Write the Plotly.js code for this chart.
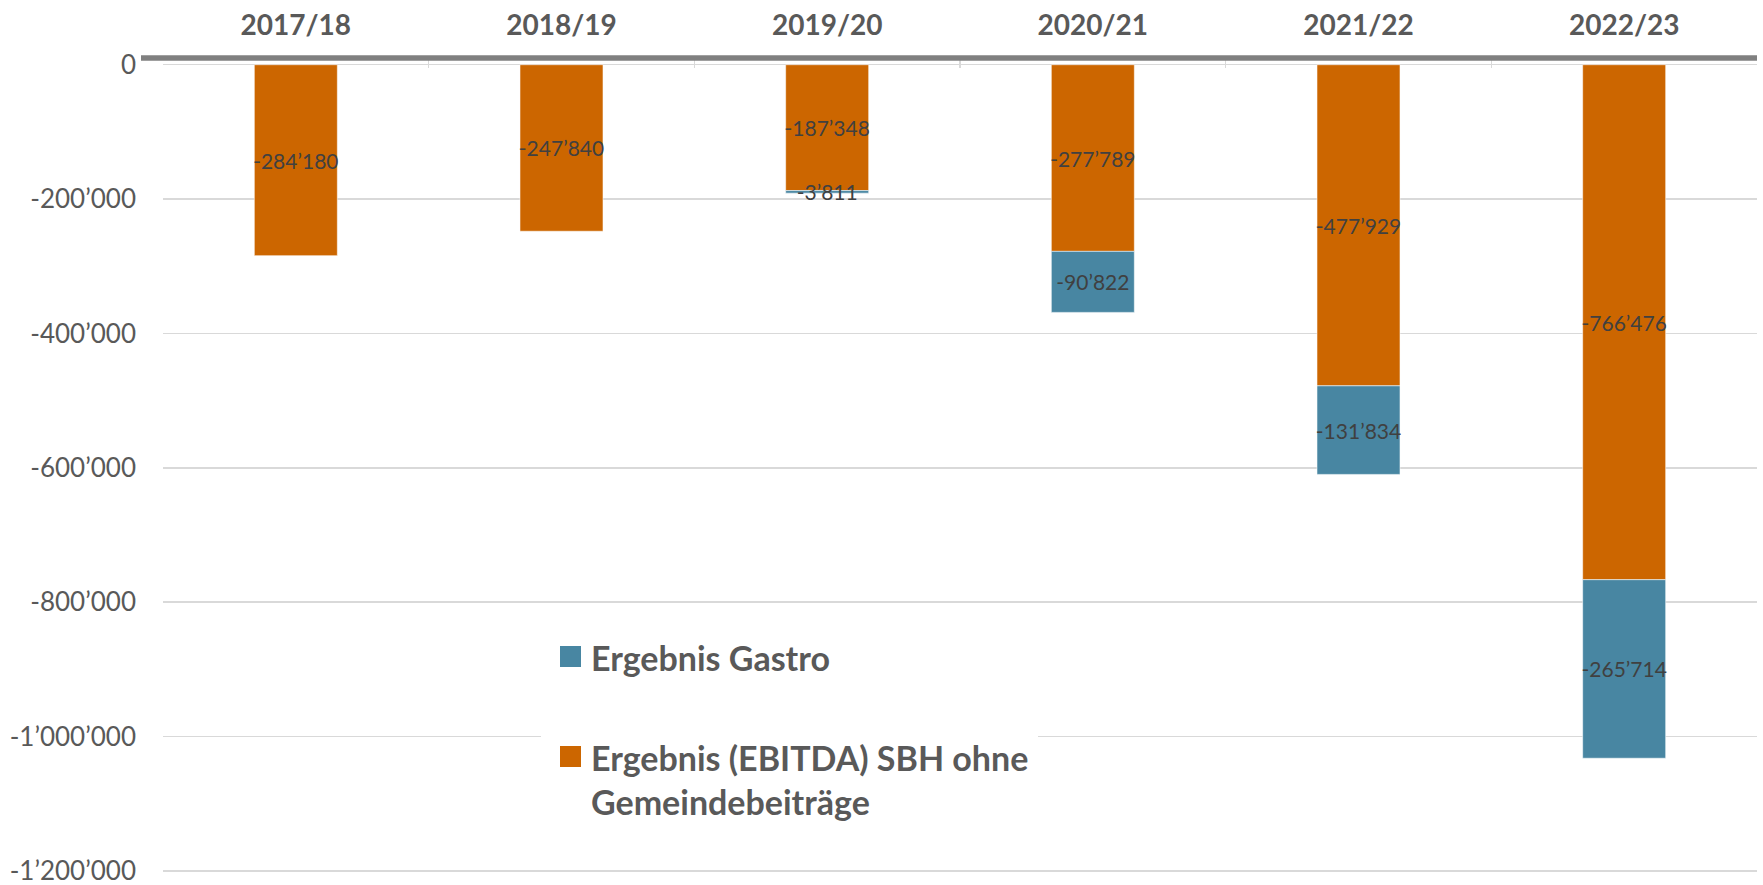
<!DOCTYPE html>
<html>
<head>
<meta charset="utf-8">
<script src="https://cdn.plot.ly/plotly-3.0.1.min.js"></script>
<style>html,body{margin:0;padding:0;background:#fff}#chart{width:1763px;height:885px}</style>
</head>
<body>
<div id="chart"></div>
<script>
const categories = ['2017/18', '2018/19', '2019/20', '2020/21', '2021/22', '2022/23'];
const ebitdaValues = [-284180, -247840, -187348, -277789, -477929, -766476];
const gastroValues = [null, null, -3811, -90822, -131834, -265714];
const ebitdaName = 'Ergebnis (EBITDA) SBH ohne<br>Gemeindebeiträge';
const gastroName = 'Ergebnis Gastro';
const yTickValues = [0, -200000, -400000, -600000, -800000, -1000000, -1200000];

const ebitdaColor = '#CC6600';
const gastroColor = '#4886A2';

function fmt(v) {
  if (v === null || v === undefined) return '';
  const s = String(Math.abs(v)).replace(/\B(?=(\d{3})+(?!\d))/g, '\u2019');
  return (v < 0 ? '-' : '') + s;
}

const W = 1763, H = 885;
const M = {l: 163, r: 6, t: 58, b: 10};
const PW = W - M.l - M.r, PH = H - M.t - M.b;
const px = x => (x - M.l) / PW;       // page pixel -> paper x
const py = y => (H - M.b - y) / PH;   // page pixel -> paper y

const FONT = 'Lato, "Open Sans", sans-serif';
const labelFont = {family: FONT, size: 21, color: '#404040'};
const legendFont = {family: FONT, size: 34, weight: 'bold', color: '#595959'};

const traces = [
  {
    type: 'bar', name: ebitdaName, x: categories, y: ebitdaValues,
    text: ebitdaValues.map(fmt), textposition: 'inside', insidetextanchor: 'middle',
    textangle: 0, textfont: labelFont, cliponaxis: false,
    marker: {color: ebitdaColor, line: {color: 'rgba(255,255,255,0.55)', width: 1}},
    hoverinfo: 'x+y'
  },
  {
    type: 'bar', name: gastroName, x: categories, y: gastroValues,
    text: gastroValues.map(fmt), textposition: 'inside', insidetextanchor: 'middle',
    textangle: 0, textfont: labelFont, cliponaxis: false,
    marker: {color: gastroColor, line: {color: 'rgba(255,255,255,0.55)', width: 1}},
    hoverinfo: 'x+y'
  }
];

// legend (drawn as a boxed key)
const legendItems = [
  {name: gastroName, color: gastroColor, sq: 646, ty: 657},
  {name: ebitdaName, color: ebitdaColor, sq: 746, ty: 779}
];

const shapes = [
  {type: 'line', xref: 'paper', yref: 'paper', x0: px(141), x1: 1, y0: 1, y1: 1,
   line: {color: '#808080', width: 5.5}, layer: 'above'},
  {type: 'rect', xref: 'paper', yref: 'paper', x0: px(541), x1: px(1038), y0: py(862), y1: py(612),
   fillcolor: '#ffffff', line: {width: 0}, layer: 'above'}
];
const annotations = [];
legendItems.forEach(it => {
  shapes.push({type: 'rect', xref: 'paper', yref: 'paper', x0: px(560), x1: px(581),
    y0: py(it.sq + 21), y1: py(it.sq), fillcolor: it.color, line: {width: 0}, layer: 'above'});
  annotations.push({xref: 'paper', yref: 'paper', x: px(589), y: py(it.ty), xanchor: 'left', yanchor: 'middle',
    text: it.name, align: 'left', showarrow: false, font: legendFont});
});

const layout = {
  width: W, height: H,
  margin: {l: M.l, r: M.r, t: M.t, b: M.b, pad: 0},
  paper_bgcolor: '#ffffff', plot_bgcolor: '#ffffff',
  barmode: 'relative', bargap: 0.6875,
  font: {family: FONT, color: '#595959'},
  uniformtext: {minsize: 21, mode: 'show'},
  showlegend: false,
  xaxis: {
    type: 'category', side: 'top', showgrid: false, showline: false, zeroline: false,
    tickson: 'boundaries', ticks: 'inside', ticklen: 10, tickwidth: 1.5, tickcolor: '#d9d9d9',
    tickfont: {family: FONT, size: 28, weight: 'bold', color: '#595959'},
    ticklabelstandoff: 16
  },
  yaxis: {
    range: [-1206000, 10000], showgrid: true, gridcolor: '#d9d9d9', gridwidth: 1.5,
    zeroline: true, zerolinecolor: '#d9d9d9', zerolinewidth: 1.5,
    showline: false, ticks: '',
    tickvals: yTickValues, ticktext: yTickValues.map(fmt),
    tickfont: {family: FONT, size: 26, color: '#595959'},
    ticklabelstandoff: 26, ticklabeloverflow: 'allow'
  },
  shapes: shapes,
  annotations: annotations
};

Plotly.newPlot('chart', traces, layout, {displayModeBar: false, staticPlot: true});
</script>
</body>
</html>
